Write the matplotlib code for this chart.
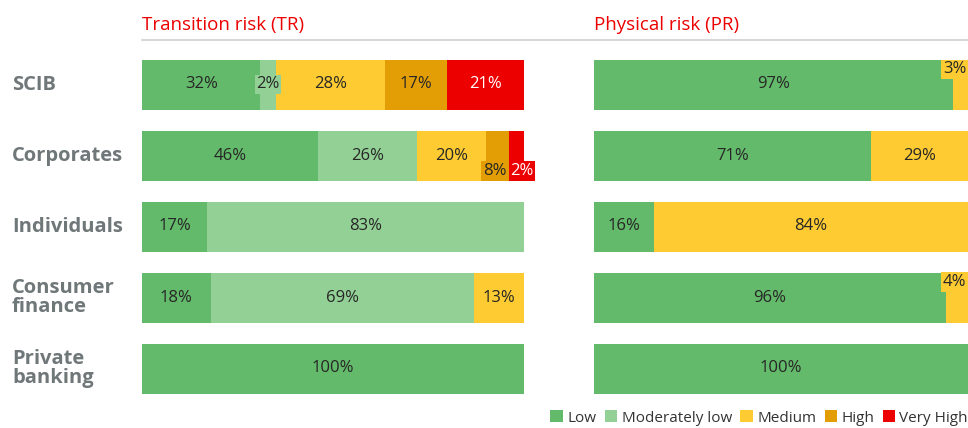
import matplotlib.pyplot as plt
from matplotlib.patches import Patch
from matplotlib.lines import Line2D
import matplotlib.transforms as mtransforms

plt.rcParams['font.family'] = ['Open Sans', 'DejaVu Sans']

# === Data ===
categories = ["SCIB", "Corporates", "Individuals", "Consumer\nfinance", "Private\nbanking"]
levels = ["Low", "Moderately low", "Medium", "High", "Very High"]
colors = ["#63ba6a", "#93d095", "#fecb32", "#e39e06", "#ec0000"]

# Transition risk: bar widths as drawn, and printed labels
tr_widths = [
    [31, 46, 17, 18, 100],    # Low
    [4, 26, 83, 69, 0],       # Moderately low
    [28.5, 18, 0, 13, 0],     # Medium
    [16.3, 6, 0, 0, 0],       # High
    [20.2, 4, 0, 0, 0],       # Very High
]
tr_labels = [
    [32, 46, 17, 18, 100],
    [2, 26, 83, 69, 0],
    [28, 20, 0, 13, 0],
    [17, 8, 0, 0, 0],
    [21, 2, 0, 0, 0],
]

# Physical risk
pr_widths = [
    [96, 74, 16, 94, 100],    # Low
    [0, 0, 0, 0, 0],
    [4, 26, 84, 6, 0],        # Medium
    [0, 0, 0, 0, 0],
    [0, 0, 0, 0, 0],
]
pr_labels = [
    [97, 71, 16, 96, 100],
    [0, 0, 0, 0, 0],
    [3, 29, 84, 4, 0],
    [0, 0, 0, 0, 0],
    [0, 0, 0, 0, 0],
]

# labels that get a coloured box and special placement: (category, level) -> mode
tr_special = {(0, 1): "center", (1, 3): "below", (1, 4): "below_right"}
pr_special = {(0, 2): "topright", (3, 2): "topright"}

# === Figure ===
W, H = 968, 428
fig = plt.figure(figsize=(W / 100, H / 100), dpi=100)

top_px, bot_px = 40, 412
row0, pitch = 84.5, 71
bar_h = 50 / pitch
y_top = (top_px - row0) / pitch
y_bot = (bot_px - row0) / pitch


def make_ax(x0, x1):
    ax = fig.add_axes([x0 / W, 1 - bot_px / H, (x1 - x0) / W, (bot_px - top_px) / H])
    ax.set_xlim(0, 100)
    ax.set_ylim(y_bot, y_top)
    ax.axis("off")
    return ax


ax_tr = make_ax(142, 524)
ax_pr = make_ax(594, 968)

txt_dark = "#262626"
fs = 12


def draw_panel(ax, widths, labels, special):
    ys = range(len(categories))
    left = [0] * len(categories)
    for j, (w, lab, col) in enumerate(zip(widths, labels, colors)):
        ax.barh(ys, w, left=left, height=bar_h, color=col, linewidth=0)
        for i in ys:
            if lab[i] == 0:
                continue
            s = f"{lab[i]}%"
            tc = "white" if j == 4 else txt_dark
            xc = left[i] + w[i] / 2
            mode = special.get((i, j))
            box = dict(boxstyle="square,pad=0.1", fc=col, ec="none")
            if mode is None:
                ax.text(xc, i, s, ha="center", va="center", fontsize=fs, color=tc)
            elif mode == "center":
                ax.text(xc, i, s, ha="center", va="center", fontsize=fs,
                        color=tc, bbox=box)
            elif mode == "below":
                ax.annotate(s, (xc, i + bar_h / 2), xytext=(-2, 1.2),
                            textcoords="offset points", ha="center", va="bottom",
                            fontsize=fs, color=tc, bbox=box)
            elif mode == "below_right":
                ax.annotate(s, (left[i], i + bar_h / 2), xytext=(1.2, 1.2),
                            textcoords="offset points", ha="left", va="bottom",
                            fontsize=fs, color=tc, bbox=box, annotation_clip=False)
            elif mode == "topright":
                ax.annotate(s, (left[i] + w[i], i - bar_h / 2), xytext=(-1.2, -1.2),
                            textcoords="offset points", ha="right", va="top",
                            fontsize=fs, color=tc, bbox=box)
        left = [a + b for a, b in zip(left, w)]


draw_panel(ax_tr, tr_widths, tr_labels, tr_special)
draw_panel(ax_pr, pr_widths, pr_labels, pr_special)

# === Category labels ===
for i, c in enumerate(categories):
    tr = mtransforms.blended_transform_factory(fig.transFigure, ax_tr.transData)
    ax_tr.text(12 / W, i, c, transform=tr, ha="left", va="center", fontsize=14.5,
               fontweight="bold", color="#6f7779", linespacing=0.95)

# === Titles and rule ===
fig.add_artist(Line2D([142 / W, 1], [1 - 40 / H] * 2, transform=fig.transFigure,
                      color="#d0d0d0", lw=1.2))
fig.text(142 / W, 1 - 30 / H, "Transition risk (TR)", color="#ec0000",
         fontsize=13.5, ha="left", va="baseline")
fig.text(594 / W, 1 - 30 / H, "Physical risk (PR)", color="#ec0000",
         fontsize=13.5, ha="left", va="baseline")

# === Legend ===
handles = [Patch(facecolor=c, edgecolor="none", label=l) for c, l in zip(colors, levels)]
fig.legend(handles=handles, loc="center right", bbox_to_anchor=(1.0, 1 - 418 / H),
           ncol=5, frameon=False, fontsize=11, handlelength=0.8, handleheight=0.8,
           handletextpad=0.3, columnspacing=0.55, borderaxespad=0, borderpad=0,
           labelcolor="#333333")

fig.savefig("out.png", dpi=100)
